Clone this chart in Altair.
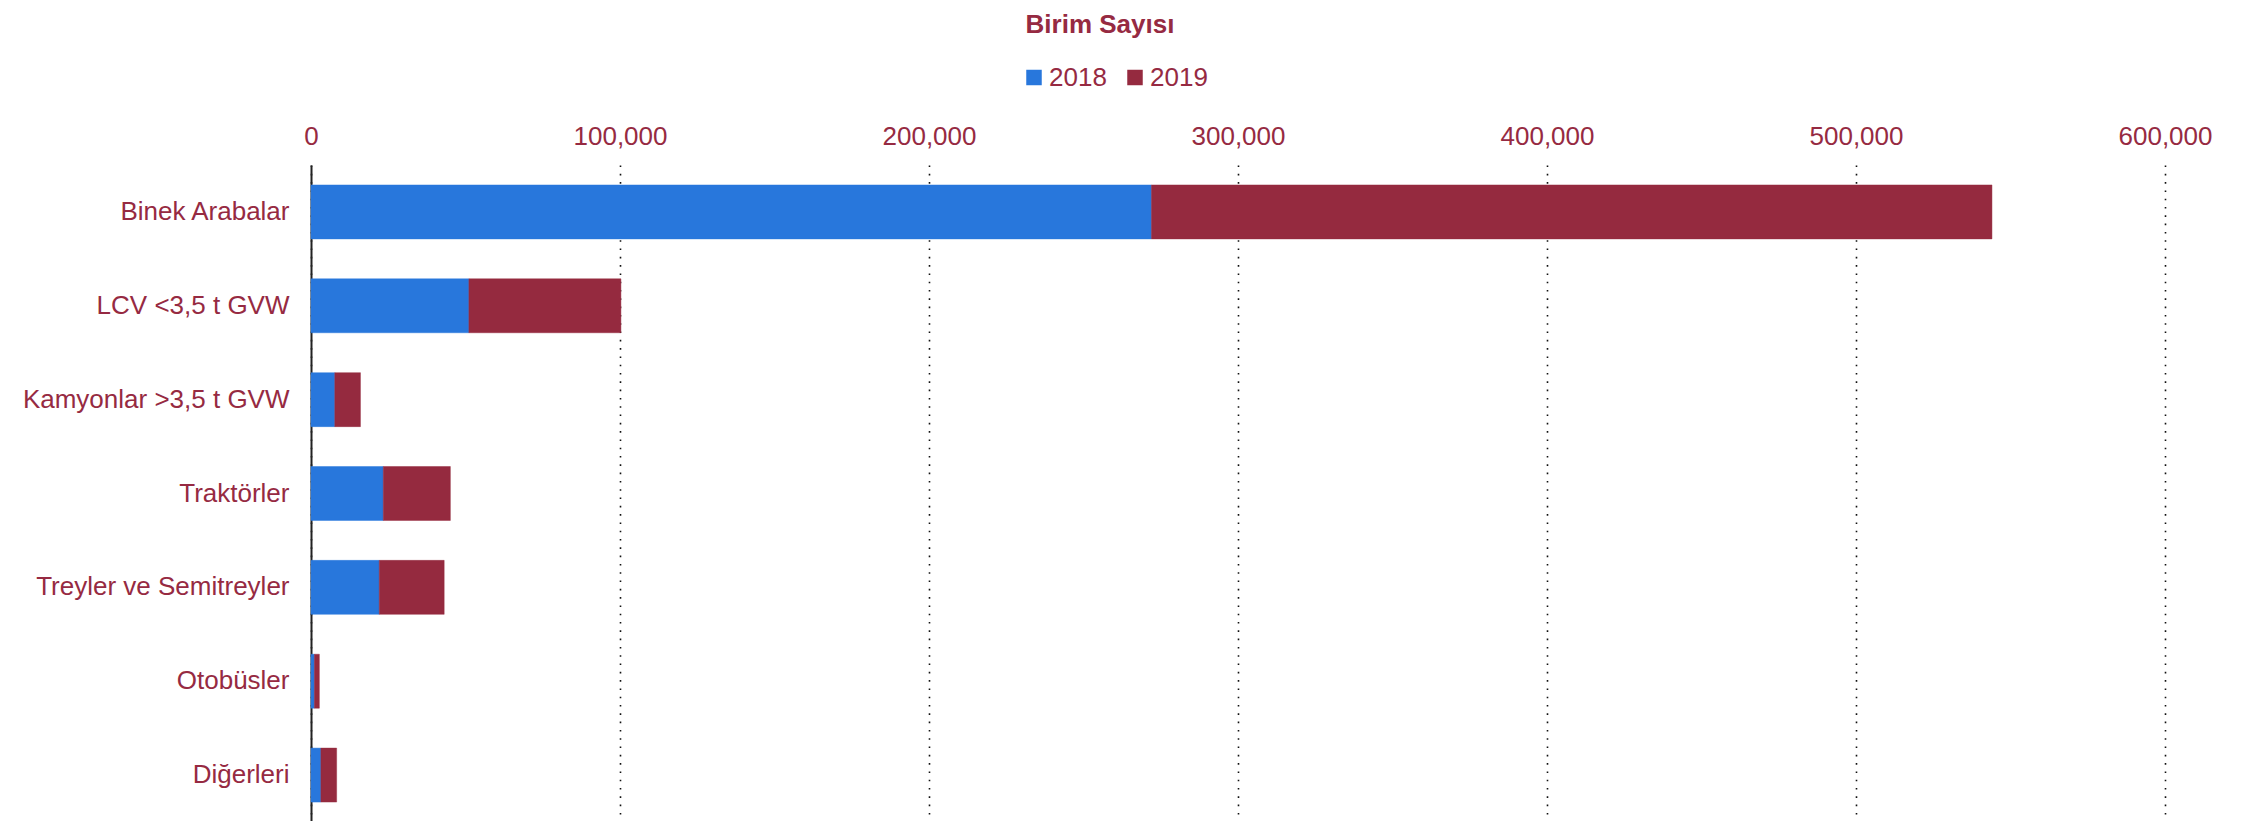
import altair as alt
import pandas as pd

categories = ["Binek Arabalar", "LCV <3,5 t GVW", "Kamyonlar >3,5 t GVW", "Traktörler",
              "Treyler ve Semitreyler", "Otobüsler", "Diğerleri"]
years = ["2018", "2019"]
v2018 = [272000, 51100, 7700, 23400, 22100, 1100, 3200]
v2019 = [272000, 49200, 8300, 21700, 21000, 1600, 5100]
x_ticks = [0, 100000, 200000, 300000, 400000, 500000, 600000]

rows = []
for c, a, b in zip(categories, v2018, v2019):
    rows.append({"Kategori": c, "Yıl": years[0], "Birim": a})
    rows.append({"Kategori": c, "Yıl": years[1], "Birim": b})
df = pd.DataFrame(rows)

TXT = "#962a42"
BLUE = "#2877dc"
RED = "#952a3f"
FONT = "Liberation Sans"

color_scale = alt.Scale(domain=years, range=[BLUE, RED])

chart = alt.Chart(df).mark_bar(strokeWidth=1, strokeOpacity=0.45).encode(
    y=alt.Y("Kategori:N", sort=categories,
            scale=alt.Scale(paddingInner=0.425, paddingOuter=0.2125),
            axis=alt.Axis(title=None, ticks=False, labelPadding=22, labelFontSize=26,
                          labelColor=TXT, labelFont=FONT, domainColor="#222",
                          domainWidth=2, grid=False, labelLimit=400)),
    x=alt.X("Birim:Q", stack="zero",
            scale=alt.Scale(domain=[0, 600000], nice=False),
            axis=alt.Axis(title=None, orient="top", values=x_ticks, format=",d",
                          ticks=False, domain=False, labelPadding=16, labelFontSize=26,
                          labelColor=TXT, labelFont=FONT, labelFlush=False, grid=True,
                          gridColor="#111", gridWidth=1.6, gridDash=[1.6, 6.7])),
    color=alt.Color("Yıl:N", scale=color_scale,
                    legend=alt.Legend(title=None, orient="none", legendX=710, legendY=-100.5,
                                      direction="horizontal", symbolType="square",
                                      symbolSize=240, symbolStrokeWidth=0,
                                      labelFontSize=26, labelColor=TXT, labelFont=FONT,
                                      labelOffset=2, columnPadding=15, padding=0)),
    stroke=alt.Stroke("Yıl:N", scale=color_scale, legend=None),
    order=alt.Order("Yıl:N", sort="ascending"),
).properties(
    width=1854,
    height=657,
    title=alt.TitleParams("Birim Sayısı", fontSize=26, font=FONT, fontWeight="bold",
                          color=TXT, anchor="middle", frame="group", dx=-138, offset=27),
    autosize=alt.AutoSizeParams(type="none"),
    padding={"left": 303, "top": 157, "right": 60, "bottom": 0},
).configure_view(stroke=None)

chart.save("out.html", embed_options={"renderer": "svg", "actions": False})
